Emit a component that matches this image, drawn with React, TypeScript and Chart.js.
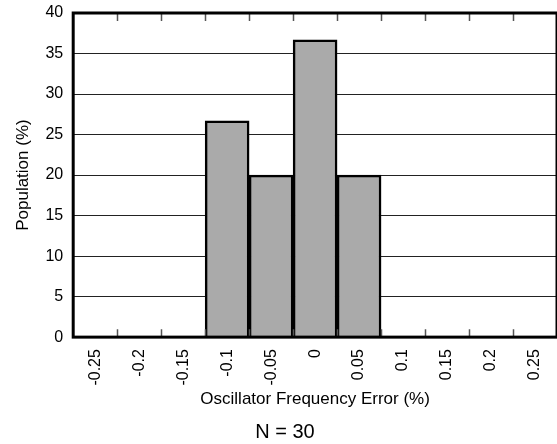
import React, { useEffect, useRef } from "react";
import { Chart, registerables } from "chart.js";

Chart.register(...registerables);

const categories = ["-0.25", "-0.2", "-0.15", "-0.1", "-0.05", "0", "0.05", "0.1", "0.15", "0.2", "0.25"];
const population = [0, 0, 0, 26.7, 20, 36.7, 20, 0, 0, 0, 0];
const yTicks = [0, 5, 10, 15, 20, 25, 30, 35, 40];
const xTitle = "Oscillator Frequency Error (%)";
const yTitle = "Population (%)";
const footnote = "N = 30";

const FONT = "'Liberation Sans', Arial, sans-serif";

const boundaryTicks = {
  id: "boundaryTicks",
  afterDatasetsDraw(chart: any) {
    const { ctx, chartArea, scales } = chart;
    const x = scales.x;
    ctx.save();
    ctx.strokeStyle = "#555";
    ctx.lineWidth = 1.5;
    for (let i = 0; i < categories.length - 1; i++) {
      const px = Math.round((x.getPixelForValue(i) + x.getPixelForValue(i + 1)) / 2) + 0.5;
      ctx.beginPath();
      ctx.moveTo(px, chartArea.top);
      ctx.lineTo(px, chartArea.top + 8);
      ctx.moveTo(px, chartArea.bottom);
      ctx.lineTo(px, chartArea.bottom - 8);
      ctx.stroke();
    }
    ctx.strokeStyle = "#000";
    ctx.lineWidth = 3;
    ctx.strokeRect(chartArea.left, chartArea.top, chartArea.right - chartArea.left, chartArea.bottom - chartArea.top);
    ctx.restore();
  },
};

export default function App() {
  const ref = useRef<HTMLCanvasElement>(null);
  useEffect(() => {
    if (!ref.current) return;
    const chart = new Chart(ref.current, {
      type: "bar",
      data: {
        labels: categories,
        datasets: [
          {
            data: population,
            backgroundColor: "#aaaaaa",
            borderColor: "#000000",
            borderWidth: 2.5,
            categoryPercentage: 1,
            barPercentage: 1,
          },
        ],
      },
      options: {
        animation: false,
        responsive: false,
        layout: { padding: { top: 13, right: 0, left: 13, bottom: 0 } },
        plugins: {
          legend: { display: false },
          tooltip: { enabled: false },
          title: {
            display: true,
            position: "bottom",
            text: footnote,
            color: "#000",
            font: { family: FONT, size: 20, weight: "normal" },
            padding: { top: 10, bottom: 0 },
          },
        },
        scales: {
          x: {
            offset: true,
            grid: { display: false },
            border: { display: false },
            afterFit(scale: any) {
              scale.paddingLeft = 0;
              scale.paddingRight = 0;
            },
            ticks: {
              color: "#000",
              font: { family: FONT, size: 16 },
              minRotation: 90,
              maxRotation: 90,
              padding: 4,
              autoSkip: false,
            },
            title: {
              display: true,
              text: xTitle,
              color: "#000",
              font: { family: FONT, size: 17 },
              padding: { top: 0, bottom: 0 },
            },
          },
          y: {
            min: 0,
            max: 40,
            afterBuildTicks(scale: any) {
              scale.ticks = yTicks.map((v) => ({ value: v }));
            },
            afterFit(scale: any) {
              scale.paddingTop = 0;
              scale.paddingBottom = 0;
            },
            grid: { color: "#222", lineWidth: 1, drawTicks: false },
            border: { display: false },
            ticks: {
              color: "#000",
              font: { family: FONT, size: 16 },
              padding: 10,
            },
            title: {
              display: true,
              text: yTitle,
              color: "#000",
              font: { family: FONT, size: 17 },
              padding: { top: 0, bottom: 2 },
            },
          },
        },
      },
      plugins: [boundaryTicks],
    });
    return () => chart.destroy();
  }, []);
  return (
    <div style={{ position: "fixed", left: 0, top: 0, width: 557, height: 444, background: "#fff" }}>
      <canvas ref={ref} width={557} height={444} />
    </div>
  );
}
